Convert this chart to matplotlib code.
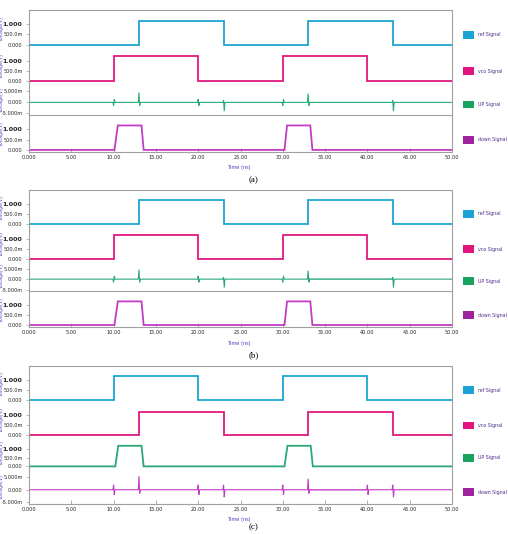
import matplotlib.pyplot as plt
from matplotlib.patches import Patch

W, H = 508, 534

# ****** DATA (time in ns, voltage in V) ******
time_ticks = [0, 5, 10, 15, 20, 25, 30, 35, 40, 45, 50]
time_labels = ['0.000', '5.00', '10.00', '15.00', '20.00', '25.00',
               '30.00', '35.00', '40.00', '45.00', '50.00']

step_ticks = [0, 0.5, 1.0]
step_labels = ['0.000', '500.0m', '1.000']
spike_ticks = [-5e-3, 0, 5e-3]
spike_labels = ['-5.000m', '0.000', '5.000m']

# panels (a) and (b): vco leads ref
ref_t_ab = [0, 13, 13, 23, 23, 33, 33, 43, 43, 50]
ref_v_ab = [0, 0, 1.17, 1.17, 0, 0, 1.17, 1.17, 0, 0]
vco_t_ab = [0, 10, 10, 20, 20, 30, 30, 40, 40, 50]
vco_v_ab = [0, 0, 1.22, 1.22, 0, 0, 1.22, 1.22, 0, 0]
down_t_ab = [0, 10.1, 10.5, 13.3, 13.55, 30.2, 30.5, 33.25, 33.5, 50]
down_v_ab = [0, 0, 1.18, 1.18, 0, 0, 1.18, 1.18, 0, 0]
# glitches on UP: (time, first peak, second peak)
up_glitch_ab = [(10, -1.5e-3, 1.5e-3), (13, 4.5e-3, -1.5e-3), (20, 1.5e-3, -1.5e-3),
                (23, 1.0e-3, -4.0e-3), (30, -1.5e-3, 1.5e-3), (33, 4.0e-3, -1.5e-3),
                (43, 1.0e-3, -4.0e-3)]
up_band_ab = (33.1, 43)

# panel (c): ref leads vco
ref_t_c = [0, 10, 10, 20, 20, 30, 30, 40, 40, 50]
ref_v_c = [0, 0, 1.2, 1.2, 0, 0, 1.2, 1.2, 0, 0]
vco_t_c = [0, 13, 13, 23, 23, 33, 33, 43, 43, 50]
vco_v_c = [0, 0, 1.18, 1.18, 0, 0, 1.18, 1.18, 0, 0]
up_t_c = [0, 10.2, 10.55, 13.3, 13.55, 30.2, 30.55, 33.3, 33.55, 50]
up_v_c = [0, 0, 1.18, 1.18, 0, 0, 1.18, 1.18, 0, 0]
down_glitch_c = [(10, 2.0e-3, -2.0e-3), (13, 5.5e-3, -1.5e-3), (20, 2.0e-3, -2.0e-3),
                 (23, 2.0e-3, -3.0e-3), (30, 2.0e-3, -2.0e-3), (33, 4.5e-3, -1.5e-3),
                 (40, 2.0e-3, -2.0e-3), (43, 2.0e-3, -3.0e-3)]
down_band_c = (33.1, 40)

names = ['ref Signal', 'vco Signal', 'UP Signal', 'down Signal']
line_colors = ['#1ca6d2', '#e0197f', '#2aa876', '#c23cc4']
legend_colors = ['#1ba3d6', '#e2137f', '#17a45f', '#9f239d']


def glitch_wave(glitches):
    t, v = [0], [0]
    for tg, a, b in glitches:
        t += [tg - 0.08, tg, tg + 0.08, tg + 0.16]
        v += [0, a, b, 0]
    t.append(50)
    v.append(0)
    return t, v


panels = [
    ('(a)', 10, 152,
     [('step', ref_t_ab, ref_v_ab, None), ('step', vco_t_ab, vco_v_ab, None),
      ('spike', *glitch_wave(up_glitch_ab), up_band_ab), ('step', down_t_ab, down_v_ab, None)]),
    ('(b)', 190, 327,
     [('step', ref_t_ab, ref_v_ab, None), ('step', vco_t_ab, vco_v_ab, None),
      ('spike', *glitch_wave(up_glitch_ab), up_band_ab), ('step', down_t_ab, down_v_ab, None)]),
    ('(c)', 366, 504,
     [('step', ref_t_c, ref_v_c, None), ('step', vco_t_c, vco_v_c, None),
      ('step', up_t_c, up_v_c, None), ('spike', *glitch_wave(down_glitch_c), down_band_c)]),
]

row_fracs = [0, 0.26, 0.515, 0.74, 1.0]
LEFT, RIGHT = 29, 452
frame = '#a0a0a0'
tick_font = 'DejaVu Sans'

fig = plt.figure(figsize=(W / 100, H / 100), dpi=100)

for caption, top, bottom, rows in panels:
    ph = bottom - top
    for i, (kind, t, v, band) in enumerate(rows):
        r_top = top + row_fracs[i] * ph
        r_bot = top + row_fracs[i + 1] * ph
        ax = fig.add_axes([LEFT / W, 1 - r_bot / H, (RIGHT - LEFT) / W, (r_bot - r_top) / H])
        lw = 1.3 if kind == 'step' else 0.8
        ax.plot(t, v, color=line_colors[i], lw=lw, solid_joinstyle='miter')
        if band is not None:
            ax.fill_between(list(band), -0.35e-3, 0.35e-3, color=line_colors[i], alpha=0.3, lw=0)
        ax.set_xlim(0, 50)
        if kind == 'step':
            ax.set_ylim(-0.1, 1.68)
            ax.set_yticks(step_ticks)
            ax.set_yticklabels(step_labels)
        else:
            ax.set_ylim(-5.8e-3, 8.8e-3)
            ax.set_yticks(spike_ticks)
            ax.set_yticklabels(spike_labels)
        for lab in ax.get_yticklabels():
            lab.set_fontfamily(tick_font)
            if lab.get_text() == '1.000':
                lab.set_fontsize(4.6)
                lab.set_fontweight('bold')
            else:
                lab.set_fontsize(3.6)
            lab.set_color('#222222')
        ax.tick_params(axis='y', length=2.2, width=0.5, color=frame, pad=2.5)
        ax.set_facecolor('none')
        for s in ax.spines.values():
            s.set_color(frame)
            s.set_linewidth(0.8)
        ax.spines['top'].set_visible(i == 0)
        ax.spines['bottom'].set_visible(i == 3 or (i == 2 and kind == 'spike'))
        if i == 3:
            ax.set_xticks(time_ticks)
            ax.set_xticklabels(time_labels, fontsize=3.6, family=tick_font, color='#222222')
            ax.tick_params(axis='x', direction='in', length=3, width=0.6, color=frame, pad=2.5)
        else:
            ax.tick_params(axis='x', bottom=False, labelbottom=False)
        ax.set_ylabel('Voltage(V)', fontsize=3.4, color='#5a4fc0', labelpad=0)
        ax.yaxis.set_label_coords(-0.058, 0.5)
        ax.legend(handles=[Patch(facecolor=legend_colors[i], edgecolor='none')], labels=[names[i]],
                  loc='center left', bbox_to_anchor=((463 - LEFT) / (RIGHT - LEFT), 0.33),
                  frameon=False, fontsize=3.4, handlelength=2.4, handleheight=2.1,
                  handletextpad=0.8, borderpad=0, borderaxespad=0, labelcolor='#4b2d8a')

    fig.text(239 / W, 1 - (bottom + 16) / H, 'Time (ns)', fontsize=3.6, color='#3f3fb5',
             ha='center', va='center')
    fig.text(254 / W, 1 - min(bottom + 28, 527) / H, caption, fontsize=6.5,
             family='Liberation Serif', ha='center', va='center')

plt.savefig('out.png', dpi=100)
plt.close()
